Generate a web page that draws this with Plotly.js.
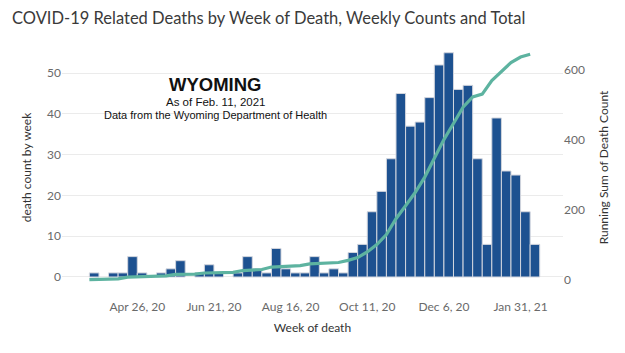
<!DOCTYPE html>
<html>
<head>
<meta charset="utf-8">
<script src="https://cdn.plot.ly/plotly-3.0.1.min.js"></script>
<style>html,body{margin:0;padding:0;background:#fff;}#chart{width:625px;height:353px;}</style>
</head>
<body>
<div id="chart"></div>
<script>
// Week start dates (Sunday) for each weekly bar
const weekStarts = [
  '2020-03-22','2020-03-29','2020-04-05','2020-04-12','2020-04-19','2020-04-26',
  '2020-05-03','2020-05-10','2020-05-17','2020-05-24','2020-05-31','2020-06-07',
  '2020-06-14','2020-06-21','2020-06-28','2020-07-05','2020-07-12','2020-07-19',
  '2020-07-26','2020-08-02','2020-08-09','2020-08-16','2020-08-23','2020-08-30',
  '2020-09-06','2020-09-13','2020-09-20','2020-09-27','2020-10-04','2020-10-11',
  '2020-10-18','2020-10-25','2020-11-01','2020-11-08','2020-11-15','2020-11-22',
  '2020-11-29','2020-12-06','2020-12-13','2020-12-20','2020-12-27','2021-01-03',
  '2021-01-10','2021-01-17','2021-01-24','2021-01-31','2021-02-07'
];
// Deaths per week (null = no deaths recorded that week)
const weeklyDeaths = [
  1, null, 1, 1, 5, 1,
  null, 1, 2, 4, null, 1,
  3, 1, null, 1, 5, 2,
  1, 7, 2, 1, 1, 5,
  1, 2, 1, 6, 8, 16,
  21, 29, 45, 37, 38, 44,
  52, 55, 46, 47, 29, 8,
  39, 26, 25, 16, 8
];
// Running sum of death count
const runningSum = [
  1, 1, 2, 3, 8, 9,
  9, 10, 12, 16, 16, 17,
  20, 21, 21, 22, 27, 29,
  30, 37, 39, 40, 41, 46,
  47, 49, 50, 56, 64, 80,
  101, 130, 175, 212, 250, 294,
  346, 401, 447, 494, 523, 531,
  570, 596, 621, 637, 645
];
const leftTicks = [0, 10, 20, 30, 40, 50];
const rightTicks = [0, 200, 400, 600];
const titleText = 'COVID-19 Related Deaths by Week of Death, Weekly Counts and Total';
const noteLines = ['WYOMING', 'As of Feb. 11, 2021', 'Data from the Wyoming Department of Health'];

const WEEK_MS = 7 * 24 * 3600 * 1000;
const tickFont = {family: 'Lato, "Open Sans", sans-serif', size: 12, color: '#6a6a6a'};
const axTitleFont = {family: 'Lato, "Open Sans", sans-serif', size: 12, color: '#333333'};
const noteFamily = '"Liberation Sans", Arial, sans-serif';

const traces = [
  {
    type: 'bar',
    x: weekStarts,
    y: weeklyDeaths,
    xperiod: WEEK_MS,
    xperiod0: weekStarts[0],
    xperiodalignment: 'middle',
    marker: {color: '#1d5190', line: {color: '#d3d6de', width: 1}},
    hoverinfo: 'x+y',
    yaxis: 'y'
  },
  {
    type: 'scatter',
    mode: 'lines',
    x: weekStarts,
    y: runningSum,
    line: {color: '#5db3a0', width: 3.2},
    yaxis: 'y2'
  }
];

const layout = {
  width: 625,
  height: 353,
  autosize: false,
  margin: {l: 62, r: 62, t: 45, b: 63},
  paper_bgcolor: '#ffffff',
  plot_bgcolor: '#ffffff',
  showlegend: false,
  bargap: 0,
  title: {
    text: titleText,
    x: 12 / 625, xanchor: 'left', xref: 'container',
    y: 1 - 18 / 353, yanchor: 'middle', yref: 'container',
    font: {family: 'Lato, "Open Sans", sans-serif', size: 16.5, color: '#3a3a3a'}
  },
  xaxis: {
    type: 'date',
    range: ['2020-03-02', '2021-03-03'],
    tick0: '2020-04-26',
    dtick: 8 * WEEK_MS,
    tickformat: '%b %-d, %y',
    showgrid: false,
    zeroline: false,
    showline: false,
    ticks: '',
    ticklabelstandoff: 8,
    tickfont: tickFont,
    title: {text: 'Week of death', font: axTitleFont, standoff: 10}
  },
  yaxis: {
    range: [-3.19, 56.9],
    tickvals: leftTicks,
    showgrid: true,
    gridcolor: '#ebebeb',
    gridwidth: 1,
    zeroline: false,
    showline: false,
    ticks: '',
    tickfont: tickFont,
    title: {text: 'death count by week', font: axTitleFont, standoff: 12}
  },
  yaxis2: {
    overlaying: 'y',
    side: 'right',
    range: [-28.6, 671.4],
    tickvals: rightTicks,
    showgrid: false,
    zeroline: false,
    showline: false,
    ticks: '',
    tickfont: tickFont,
    title: {text: 'Running Sum of Death Count', font: axTitleFont, standoff: 15}
  },
  annotations: [
    {text: '<b>' + noteLines[0] + '</b>', xref: 'paper', yref: 'paper', x: 0.307, y: (290 - 84) / 245,
     showarrow: false, xanchor: 'center', yanchor: 'middle', borderpad: 0,
     font: {family: noteFamily, size: 18.5, color: '#111111'}},
    {text: noteLines[1], xref: 'paper', yref: 'paper', x: 0.307, y: (290 - 102) / 245,
     showarrow: false, xanchor: 'center', yanchor: 'middle', borderpad: 0,
     font: {family: noteFamily, size: 11.5, color: '#111111'}},
    {text: noteLines[2], xref: 'paper', yref: 'paper', x: 0.307, y: (290 - 115) / 245,
     showarrow: false, xanchor: 'center', yanchor: 'middle', borderpad: 0,
     font: {family: noteFamily, size: 11, color: '#111111'}}
  ]
};

Plotly.newPlot('chart', traces, layout, {displayModeBar: false, staticPlot: true});
</script>
</body>
</html>
